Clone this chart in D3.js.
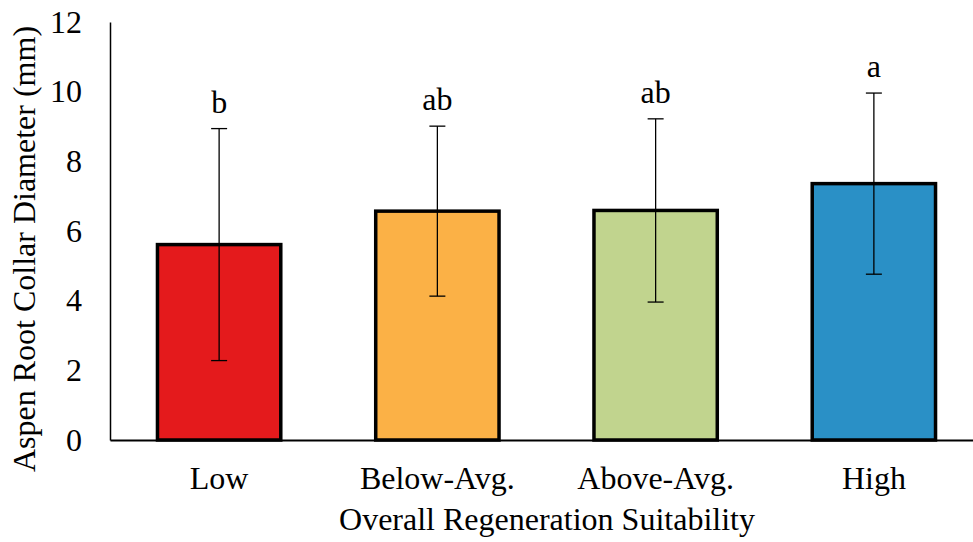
<!DOCTYPE html>
<html>
<head>
<meta charset="utf-8">
<script src="https://cdn.jsdelivr.net/npm/d3@7"></script>
<style>
  html, body { margin: 0; padding: 0; background: #fff; }
  svg text { font-family: "Liberation Serif", "Times New Roman", serif; fill: #000; }
</style>
</head>
<body>
<svg id="chart" width="973" height="542"></svg>
<script>
// Mean aspen root collar diameter by regeneration suitability class
const categories = ["Low", "Below-Avg.", "Above-Avg.", "High"];
const means = [5.61, 6.57, 6.59, 7.36];
const errors = [3.33, 2.44, 2.63, 2.60];
const letters = ["b", "ab", "ab", "a"];
const colors = ["#e41a1c", "#fbb146", "#c1d48e", "#2a90c6"];
const yTicks = [0, 2, 4, 6, 8, 10, 12];

const fontSize = "32px";
const svg = d3.select("#chart");
const margin = { left: 110, right: -10, top: 22, bottom: 102 };
const width = 973 - margin.left - margin.right;
const height = 542 - margin.top - margin.bottom;

const g = svg.append("g").attr("transform", `translate(${margin.left},${margin.top})`);

const x = d3.scaleBand().domain(categories).range([0, width]).paddingInner(0.435).paddingOuter(0.2175);
const y = d3.scaleLinear().domain([0, 12]).range([height, 0]);

// y axis: line plus labels, no tick marks
const yAxis = g.append("g")
  .call(d3.axisLeft(y).tickValues(yTicks).tickSize(0).tickPadding(28).tickFormat(d3.format("d")));
yAxis.select(".domain").attr("stroke", "#000").attr("stroke-width", 1.5);
yAxis.selectAll("text").style("font-size", fontSize);

// bars
g.selectAll("rect.bar")
  .data(categories)
  .join("rect")
  .attr("class", "bar")
  .attr("x", d => x(d))
  .attr("width", x.bandwidth())
  .attr("y", (d, i) => y(means[i]))
  .attr("height", (d, i) => y(0) - y(means[i]))
  .attr("fill", (d, i) => colors[i])
  .attr("stroke", "#000")
  .attr("stroke-width", 3.5);

// x axis line drawn over bar bottoms
const xAxis = g.append("g").attr("transform", `translate(0,${height})`)
  .call(d3.axisBottom(x).tickSize(0).tickPadding(26));
xAxis.select(".domain").attr("stroke", "#000").attr("stroke-width", 2);
xAxis.selectAll("text").style("font-size", fontSize);

// error bars
const cap = 8;
const eb = g.selectAll("g.err").data(categories).join("g").attr("class", "err");
eb.append("line")
  .attr("x1", d => x(d) + x.bandwidth() / 2)
  .attr("x2", d => x(d) + x.bandwidth() / 2)
  .attr("y1", (d, i) => y(means[i] + errors[i]))
  .attr("y2", (d, i) => y(means[i] - errors[i]))
  .attr("stroke", "#000").attr("stroke-width", 1.3);
eb.append("line")
  .attr("x1", d => x(d) + x.bandwidth() / 2 - cap)
  .attr("x2", d => x(d) + x.bandwidth() / 2 + cap)
  .attr("y1", (d, i) => y(means[i] + errors[i]))
  .attr("y2", (d, i) => y(means[i] + errors[i]))
  .attr("stroke", "#000").attr("stroke-width", 1.3);
eb.append("line")
  .attr("x1", d => x(d) + x.bandwidth() / 2 - cap)
  .attr("x2", d => x(d) + x.bandwidth() / 2 + cap)
  .attr("y1", (d, i) => y(means[i] - errors[i]))
  .attr("y2", (d, i) => y(means[i] - errors[i]))
  .attr("stroke", "#000").attr("stroke-width", 1.3);

// significance letters
g.selectAll("text.letter").data(categories).join("text")
  .attr("class", "letter")
  .attr("x", d => x(d) + x.bandwidth() / 2)
  .attr("y", (d, i) => y(means[i] + errors[i]) - 16)
  .attr("text-anchor", "middle")
  .style("font-size", fontSize)
  .text((d, i) => letters[i]);

// axis titles
svg.append("text")
  .attr("x", 547).attr("y", 530)
  .attr("text-anchor", "middle")
  .style("font-size", fontSize)
  .text("Overall Regeneration Suitability");

svg.append("text")
  .attr("transform", "translate(35,249) rotate(-90)")
  .attr("text-anchor", "middle")
  .style("font-size", fontSize)
  .text("Aspen Root Collar Diameter (mm)");
</script>
</body>
</html>
